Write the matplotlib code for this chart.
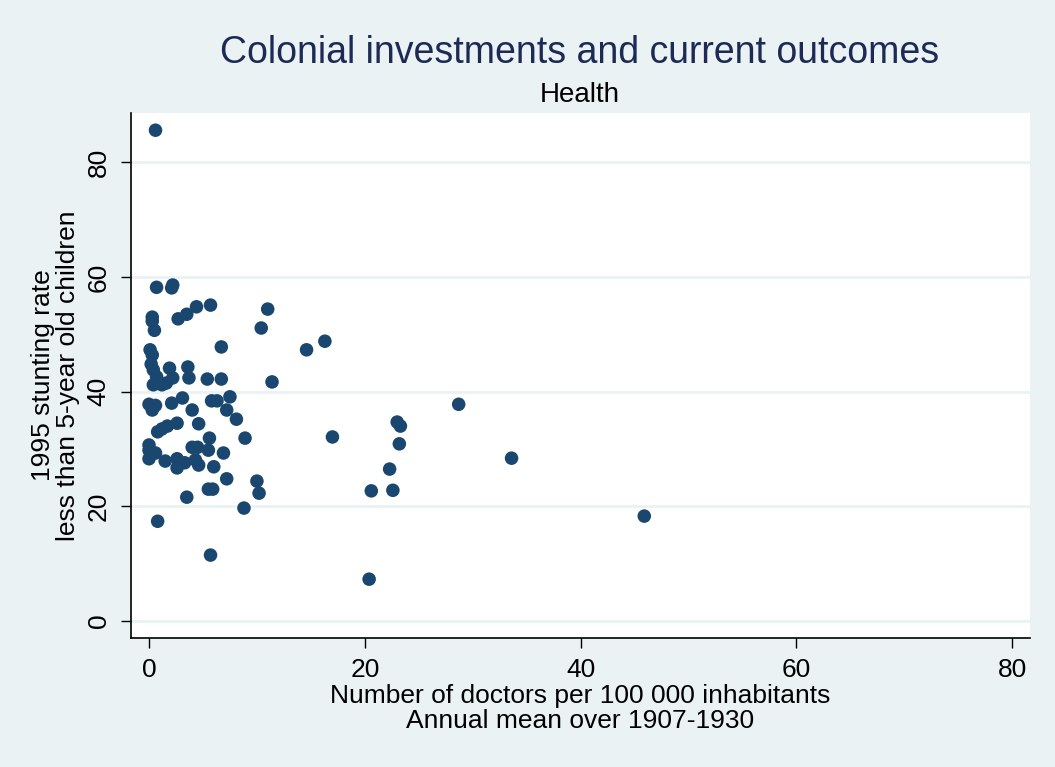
import matplotlib
matplotlib.use("Agg")
import matplotlib.pyplot as plt

# doctors per 100 000 inhabitants (annual mean 1907-1930)
doctors = [
    0.6, 0.7, 2.2, 2.1, 0.3, 0.3, 0.5, 2.7, 3.5, 4.4,
    5.7, 11.0, 10.4, 6.7, 14.6, 16.3, 0.1, 0.3, 0.2, 0.4,
    0.7, 0.4, 1.2, 1.6, 1.9, 2.2, 3.6, 3.7, 5.4, 6.7,
    11.4, 0.0, 0.3, 0.6, 2.1, 3.1, 4.0, 5.8, 6.3, 7.5,
    7.2, 8.1, 28.7, 23.0, 23.3, 17.0, 8.9, 23.2, 33.6, 0.8,
    1.2, 1.7, 2.6, 4.6, 5.6, 0.0, 0.0, 0.6, 0.0, 1.5,
    2.6, 2.6, 3.3, 4.0, 4.5, 5.5, 4.3, 4.6, 6.0, 6.9,
    7.2, 10.0, 10.2, 5.5, 5.9, 3.5, 8.8, 0.8, 5.7, 20.4,
    20.6, 22.6, 22.3, 45.9,
]
# 1995 stunting rate, children under 5
stunting = [
    85.6, 58.2, 58.6, 58.1, 53.0, 52.3, 50.7, 52.7, 53.5, 54.8,
    55.1, 54.4, 51.1, 47.8, 47.3, 48.8, 47.3, 46.4, 44.8, 43.8,
    42.6, 41.2, 41.2, 41.5, 44.1, 42.4, 44.3, 42.4, 42.2, 42.2,
    41.7, 37.8, 36.8, 37.6, 38.0, 38.9, 36.8, 38.4, 38.4, 39.1,
    36.8, 35.2, 37.8, 34.7, 34.0, 32.1, 31.9, 30.9, 28.4, 33.0,
    33.5, 34.0, 34.5, 34.4, 31.9, 30.7, 29.8, 29.3, 28.3, 27.9,
    28.3, 26.7, 27.6, 30.3, 30.3, 29.8, 28.1, 27.2, 26.9, 29.3,
    24.8, 24.4, 22.3, 23.0, 23.0, 21.6, 19.7, 17.4, 11.5, 7.3,
    22.7, 22.8, 26.5, 18.3,
]
xticks = [0, 20, 40, 60, 80]
yticks = [0, 20, 40, 60, 80]

bg = "#eaf2f3"
navy = "#1a476f"
plt.rcParams["font.family"] = ["Liberation Sans", "DejaVu Sans"]

fig = plt.figure(figsize=(10.55, 7.67), dpi=100, facecolor=bg)
ax = fig.add_axes([131 / 1055, 1 - 638 / 767, (1030 - 131) / 1055, (638 - 113) / 767])
ax.set_facecolor("white")

for t in yticks:
    ax.axhline(t, color=bg, lw=2, zorder=0)

ax.scatter(doctors, stunting, s=95, color=navy, edgecolors="none", zorder=3)

ax.set_xlim(-1.67, 81.65)
ax.set_ylim(-2.96, 88.6)
ax.set_xticks(xticks)
ax.set_yticks(yticks)
ax.tick_params(direction="out", length=7.5, width=1, pad=7, labelsize=19)
ax.tick_params(axis="y", labelrotation=90)
for lab in ax.get_yticklabels():
    lab.set_va("center")

for s in ["top", "right"]:
    ax.spines[s].set_visible(False)
for s in ["left", "bottom"]:
    ax.spines[s].set_linewidth(1.2)

ax.set_xlabel("Number of doctors per 100 000 inhabitants\nAnnual mean over 1907-1930",
              fontsize=19, linespacing=1.1, labelpad=1)
ax.set_ylabel("1995 stunting rate\nless than 5-year old children",
              fontsize=19, linespacing=1.05, labelpad=5)

fig.text(580 / 1055, 1 - 63 / 767, "Colonial investments and current outcomes",
         ha="center", va="baseline", fontsize=27, color="#1c2a55")
fig.text(580 / 1055, 1 - 102 / 767, "Health", ha="center", va="baseline", fontsize=20)

fig.savefig("out.png", dpi=100, facecolor=bg)
